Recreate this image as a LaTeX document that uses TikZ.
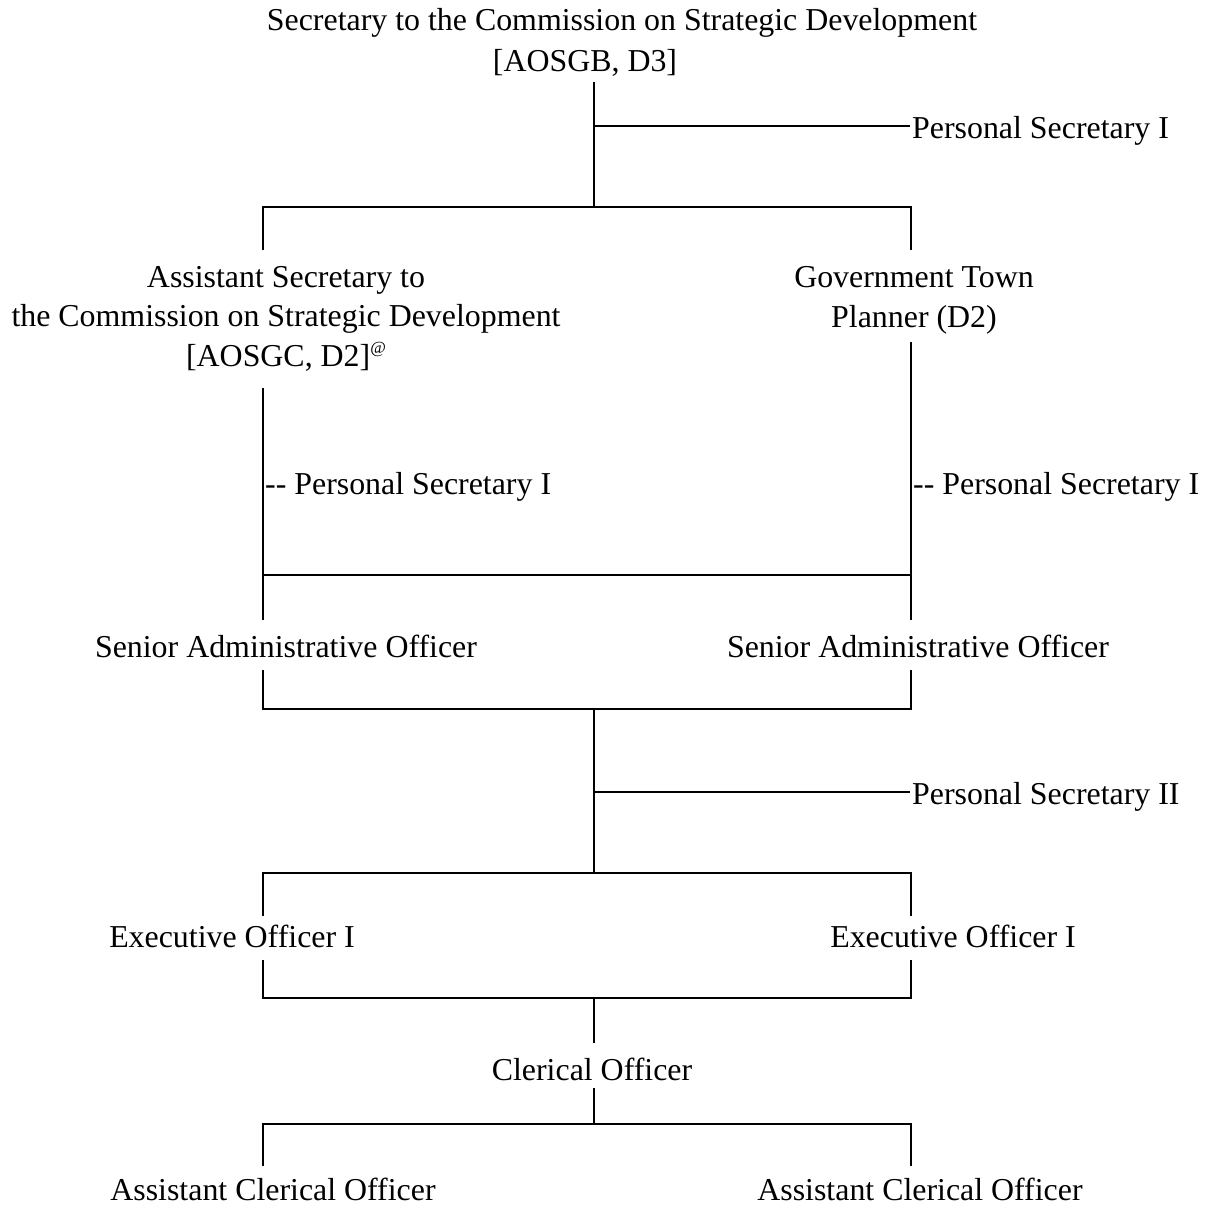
\documentclass[tikz,border=0pt]{standalone}
\usepackage{fontspec}
\setmainfont{Liberation Serif}
\begin{document}
\begin{tikzpicture}[x=1bp,y=-1bp,
  lbl/.style={inner sep=0pt, font=\fontsize{32}{39.5}\selectfont, align=center, anchor=base},
  lblw/.style={lbl, anchor=base west, align=left},
  ln/.style={line width=1.8bp}]
\useasboundingbox (0,0) rectangle (1219,1214);
% texts
\node[lbl] (top1) at (622,30) {Secretary to the Commission on Strategic Development};
\node[lbl] (top2) at (585,71) {[AOSGB, D3]};
\node[lblw] (ps1) at (912,138) {Personal Secretary I};
\node[lbl] (asc) at (286,366) {Assistant Secretary to\\the Commission on Strategic Development\\{[AOSGC, D2]\raisebox{13bp}{\fontsize{17}{17}\selectfont @}}};
\node[lbl] (gtp) at (914,327) {Government Town\\Planner (D2)};
\node[lblw] (psl) at (265,494) {-{}- Personal Secretary I};
\node[lblw] (psr) at (913,494) {-{}- Personal Secretary I};
\node[lbl] (sao1) at (286,657) {Senior Administrative Officer};
\node[lbl] (sao2) at (918,657) {Senior Administrative Officer};
\node[lblw] (ps2) at (912,804) {Personal Secretary II};
\node[lbl] (eo1) at (232,947) {Executive Officer I};
\node[lbl] (eo2) at (953,947) {Executive Officer I};
\node[lbl] (co) at (592,1080) {Clerical Officer};
\node[lbl] (aco1) at (273,1200) {Assistant Clerical Officer};
\node[lbl] (aco2) at (920,1200) {Assistant Clerical Officer};
% junction coordinates
\coordinate (t0) at (594,82);
\coordinate (tj) at (594,126);
\coordinate (tp) at (910,126);
\coordinate (tb) at (594,207);
\coordinate (b1l) at (263,207);
\coordinate (b1r) at (911,207);
\coordinate (b1ld) at (263,250);
\coordinate (b1rd) at (911,250);
\coordinate (aU) at (263,388);
\coordinate (gU) at (911,342);
\coordinate (b2l) at (263,575);
\coordinate (b2r) at (911,575);
\coordinate (b2ld) at (263,620);
\coordinate (b2rd) at (911,620);
\coordinate (s1u) at (263,670);
\coordinate (s2u) at (911,670);
\coordinate (b3l) at (263,709);
\coordinate (b3r) at (911,709);
\coordinate (b3m) at (594,709);
\coordinate (mj) at (594,792);
\coordinate (mp) at (910,792);
\coordinate (b4m) at (594,873);
\coordinate (b4l) at (263,873);
\coordinate (b4r) at (911,873);
\coordinate (b4ld) at (263,916);
\coordinate (b4rd) at (911,916);
\coordinate (e1u) at (263,960);
\coordinate (e2u) at (911,960);
\coordinate (b5l) at (263,998);
\coordinate (b5r) at (911,998);
\coordinate (b5m) at (594,998);
\coordinate (cod) at (594,1043);
\coordinate (cou) at (594,1088);
\coordinate (b6m) at (594,1124);
\coordinate (b6l) at (263,1124);
\coordinate (b6r) at (911,1124);
\coordinate (b6ld) at (263,1166);
\coordinate (b6rd) at (911,1166);
% connectors
\draw[ln] (t0) -- (tb);
\draw[ln] (tj) -- (tp);
\draw[ln] (b1ld) -- (b1l) -- (b1r) -- (b1rd);
\draw[ln] (aU) -- (b2ld);
\draw[ln] (gU) -- (b2rd);
\draw[ln] (b2l) -- (b2r);
\draw[ln] (s1u) -- (b3l) -- (b3r) -- (s2u);
\draw[ln] (b3m) -- (b4m);
\draw[ln] (mj) -- (mp);
\draw[ln] (b4ld) -- (b4l) -- (b4r) -- (b4rd);
\draw[ln] (e1u) -- (b5l) -- (b5r) -- (e2u);
\draw[ln] (b5m) -- (cod);
\draw[ln] (cou) -- (b6m);
\draw[ln] (b6ld) -- (b6l) -- (b6r) -- (b6rd);
\end{tikzpicture}
\end{document}
